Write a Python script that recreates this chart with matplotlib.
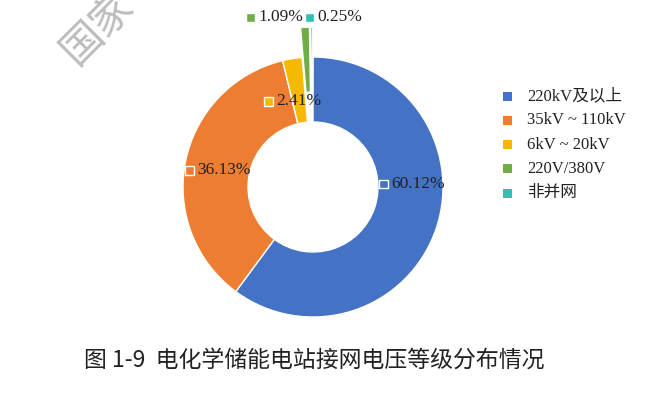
import numpy as np
import matplotlib
matplotlib.use('Agg')
import matplotlib.pyplot as plt

plt.rcParams['font.family'] = ['Liberation Serif', 'Noto Sans CJK SC']

# data
categories = ['220kV及以上', '35kV ~ 110kV', '6kV ~ 20kV', '220V/380V', '非并网']
shares = [60.12, 36.13, 2.41, 1.09, 0.25]
explode = [0, 0, 0, 0.23, 0.23]
colors = ['#4472C4', '#ED7D31', '#F5BA00', '#70AD47', '#2EC0B0']
title = '图 1-9  电化学储能电站接网电压等级分布情况'

W, H = 649, 400
fig = plt.figure(figsize=(W / 100, H / 100), dpi=100)

# donut: centre (313,187) px, radius 130 px
cx, cy, r = 313, 187, 130
ax = fig.add_axes([(cx - r) / W, (H - cy - r) / H, 2 * r / W, 2 * r / H])
ax.pie(shares, colors=colors, explode=explode, startangle=90, counterclock=False,
       radius=1.0, wedgeprops=dict(width=0.5, edgecolor='white', linewidth=1.0))
ax.set_xlim(-1, 1)
ax.set_ylim(-1, 1)
ax.set_aspect('equal')
ax.axis('off')
for p in ax.patches:
    p.set_clip_on(False)


def key_box(px, py, col, edge):
    fx, fy = px / W, 1 - py / H
    fig.patches.append(plt.Rectangle((fx - 4.5 / W, fy - 4.5 / H), 9 / W, 9 / H,
                                     transform=fig.transFigure, facecolor=col,
                                     edgecolor=edge, linewidth=1.0))
    return fx, fy


# data labels (pixel positions of the label boxes)
label_pos = [(383, 184), (189, 170), (268, 101), (250, 17), (309, 17)]
for (lx, ly), val, col in zip(label_pos, shares, colors):
    fx, fy = key_box(lx, ly, col, 'white')
    fig.text(fx + 8 / W, fy, f'{val:.2f}%', fontsize=12.5, color='#222222',
             ha='left', va='center')

# legend
for i, (cat, col) in enumerate(zip(categories, colors)):
    fx, fy = key_box(508, 96 + i * 24.3, col, 'none')
    fig.text(fx + 19 / W, fy, cat, fontsize=12, color='#222222',
             ha='left', va='center')

# caption
fig.text(314 / W, 1 - 360 / H, title, fontsize=16.5, color='#222222',
         ha='center', va='center', family=['Noto Sans CJK SC'])

# watermark
fig.text(98 / W, 1 - 28 / H, '国家', fontsize=30, color='#bdbdbd', rotation=45,
         ha='center', va='center', family=['Noto Sans CJK SC'], fontweight='light')

fig.savefig('out.png', dpi=100)
plt.close(fig)
